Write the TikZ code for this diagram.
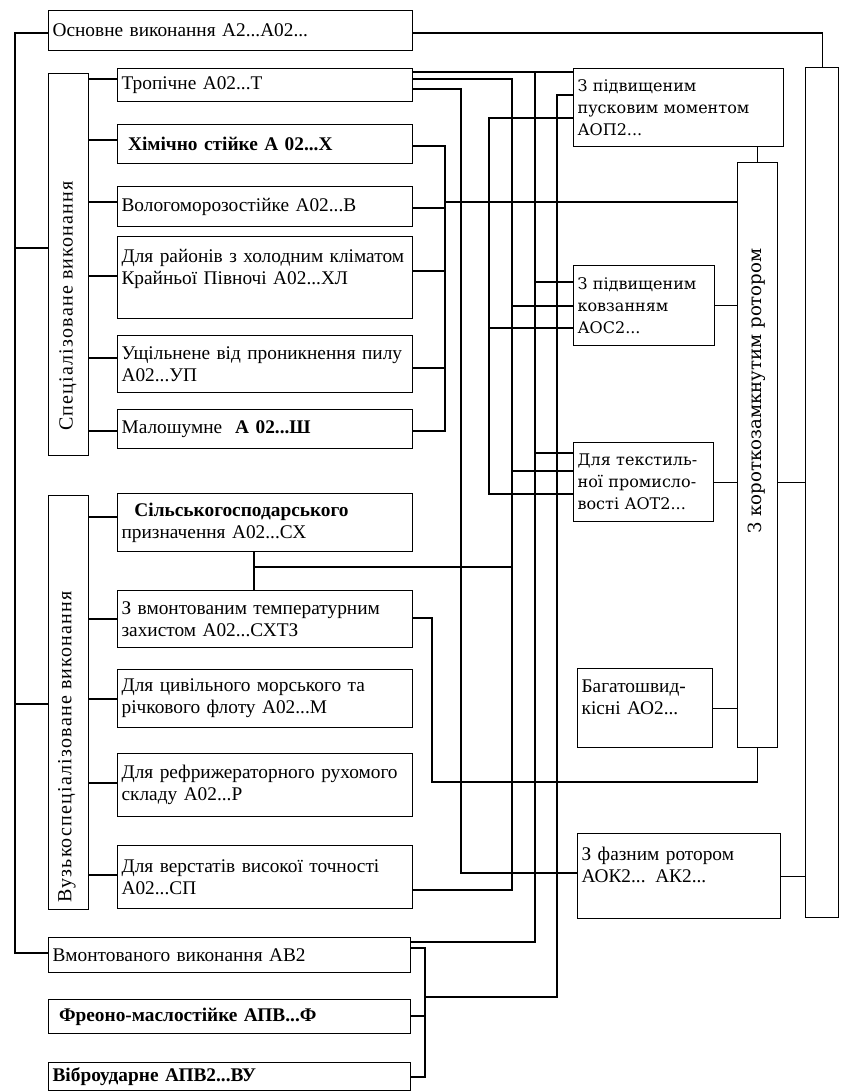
\documentclass[tikz,border=0pt]{standalone}
\usepackage{fontspec}
\setmainfont{Liberation Serif}
\newfontfamily\dvs{DejaVu Serif}
\newcommand\bx[7][]{%
  \pgfmathsetlengthmacro\bxw{(#5-#3)*0.75pt-6pt}%
  \pgfmathsetlengthmacro\bxh{(#6-#4)*0.75pt}%
  \node[box,#1,text width=\bxw,minimum height=\bxh] (#2) at (#3,#4) {#7};}
\tikzset{
  box/.style={draw,line width=0.9pt,anchor=north west,inner xsep=3pt,inner ysep=0pt,
    align=left,font=\fontsize{14.5}{16.5}\selectfont},
  rbox/.style={font=\dvs\fontsize{12}{16.5}\selectfont},
  wire/.style={line width=0.9pt},
  vlabel/.style={rotate=90,inner sep=0pt,font=\fontsize{15}{18}\selectfont\addfontfeature{LetterSpace=6}},
}
\begin{document}
\begin{tikzpicture}[x=0.75pt,y=-0.75pt]
\useasboundingbox (0,0) rectangle (841,1092);
% left column
\bx{osn}{48}{10}{412}{50}{Основне виконання А2...А02...}
\bx{spec}{48}{73}{88}{455}{}
\bx{trop}{117}{68}{412}{101}{Тропічне А02...Т}
\bx{khim}{117}{124}{412}{163}{\textbf{\ Хімічно стійке А 02...Х}}
\bx{volo}{117}{186}{412}{226}{Вологоморозостійке А02...В}
\bx{rai}{117}{236}{412}{318}{Для районів з холодним кліматом\\Крайньої Півночі А02...ХЛ\\\mbox{}}
\bx{ushch}{117}{335}{412}{392}{Ущільнене від проникнення пилу\\А02...УП}
\bx{malo}{117}{409}{412}{448}{Малошумне \ \textbf{А 02...Ш}}
\bx{vuz}{48}{495}{88}{909}{}
\bx{sil}{117}{493}{412}{551}{\textbf{\ \ Сільськогосподарського}\\призначення А02...СХ}
\bx{zvm}{117}{590}{412}{647}{З вмонтованим температурним\\захистом А02...СХТЗ}
\bx{civ}{117}{669}{412}{727}{Для цивільного морського та\\річкового флоту А02...М}
\bx{ref}{117}{753}{412}{816}{Для рефрижераторного рухомого\\складу А02...Р}
\bx{ver}{117}{845}{412}{908}{Для верстатів високої точності\\А02...СП}
\bx{vmo}{48}{937}{410}{972}{Вмонтованого виконання АВ2}
\bx{fre}{48}{999}{410}{1033}{\textbf{\ Фреоно-маслостійке АПВ...Ф}}
\bx{vib}{48}{1062}{410}{1090}{\textbf{Віброударне АПВ2...ВУ}}
% right column
\bx[rbox]{aop}{573}{68}{783}{146}{З підвищеним\\пусковим моментом\\АОП2...}
\bx[rbox]{aos}{573}{265}{714}{345}{З підвищеним\\ковзанням\\АОС2...}
\bx[rbox]{aot}{573}{442}{713}{521}{Для текстиль-\\ної промисло-\\вості АОТ2...}
\bx{bag}{577}{668}{712}{747}{Багатошвид-\\кісні АО2...\\\mbox{}}
\bx{faz}{577}{833}{780}{918}{З фазним ротором\\АОК2... АК2...\\\mbox{}}
\bx{rot}{737}{162}{777}{747}{}
\bx{rb}{805}{67}{838}{917}{}
% vertical labels
\node[vlabel] (speclbl) at (68,306) {Спеціалізоване виконання};
\node[vlabel] (vuzlbl) at (67,747) {Вузькоспеціалізоване виконання};
\node[rotate=90,inner sep=0pt,font=\dvs\fontsize{13.6}{16}\selectfont] (rotlbl) at (757,391) {З короткозамкнутим ротором};
% bus coordinates
\coordinate (sp) at (15,33);
\coordinate (bA) at (445,0);
\coordinate (bB) at (461,0);
\coordinate (bC) at (489,0);
\coordinate (bD) at (512,0);
\coordinate (bE) at (535,0);
\coordinate (bF) at (557,0);
\coordinate (bG) at (432,0);
\coordinate (bH) at (425,0);
\coordinate (j) at (254,567);
% left spine
\draw[wire] (osn.west|-sp) -- (sp) -- (sp|-0,953) -- (vmo.west|-0,953);
\draw[wire] (sp|-0,248) -- (spec.west|-0,248);
\draw[wire] (sp|-0,704) -- (vuz.west|-0,704);
\foreach \n/\y in {trop/79,khim/140,volo/202,rai/276,ushch/358,malo/431}
  \draw[wire] (spec.east|-0,\y) -- (\n.west|-0,\y);
\foreach \n/\y in {sil/517,zvm/619,civ/699,ref/783,ver/875}
  \draw[wire] (vuz.east|-0,\y) -- (\n.west|-0,\y);
% Tropichne
\draw[wire] (trop.east|-0,72) -- (aop.west|-0,72);
\draw[wire] (bE|-0,72) -- (bE|-0,942) -- (vmo.east|-0,942);
\draw[wire] (bE|-0,282) -- (aos.west|-0,282);
\draw[wire] (bE|-0,453) -- (aot.west|-0,453);
\draw[wire] (trop.east|-0,79) -- (bD|-0,79) -- (bD|-0,890) -- (ver.east|-0,890);
\draw[wire] (bD|-0,306) -- (aos.west|-0,306);
\draw[wire] (bD|-0,471) -- (aot.west|-0,471);
\draw[wire] (trop.east|-0,89) -- (bB|-0,89) -- (bB|-0,873) -- (faz.west|-0,873);
% chemical group bus
\draw[wire] (khim.east|-0,146) -- (bA|-0,146) -- (bA|-0,431) -- (malo.east|-0,431);
\draw[wire] (volo.east|-0,208) -- (bA|-0,208);
\draw[wire] (rai.east|-0,271) -- (bA|-0,271);
\draw[wire] (ushch.east|-0,368) -- (bA|-0,368);
\draw[wire] (bA|-0,202) -- (rot.west|-0,202);
% bus C
\draw[wire] (aop.west|-0,118) -- (bC|-0,118) -- (bC|-0,494) -- (aot.west|-0,494);
\draw[wire] (bC|-0,328) -- (aos.west|-0,328);
% bus F and bracket
\draw[wire] (aop.west|-0,95) -- (bF|-0,95) -- (bF|-0,997) -- (bH|-0,997);
\draw[wire] (vmo.east|-0,948) -- (bH|-0,948) -- (bH|-0,1077) -- (vib.east|-0,1077);
\draw[wire] (fre.east|-0,1016) -- (bH|-0,1016);
% agricultural link
\draw[wire] (j|-sil.south) -- (j|-zvm.north);
\draw[wire] (j) -- (bD|-j);
% built-in thermal protection to rotor
\draw[wire] (zvm.east|-0,618) -- (bG|-0,618) -- (bG|-0,782) -| (rot.south);
% right side
\draw[wire] (aop.south-|rot.north) -- (rot.north);
\draw[wire] (aos.east) -- (rot.west|-aos.east);
\draw[wire] (aot.east) -- (rot.west|-aot.east);
\draw[wire] (rot.east|-aot.east) -- (rb.west|-aot.east);
\draw[wire] (bag.east) -- (rot.west|-bag.east);
\draw[wire] (faz.east) -- (rb.west|-faz.east);
\draw[wire] (osn.east|-sp) -| (rb.north);
\end{tikzpicture}
\end{document}
